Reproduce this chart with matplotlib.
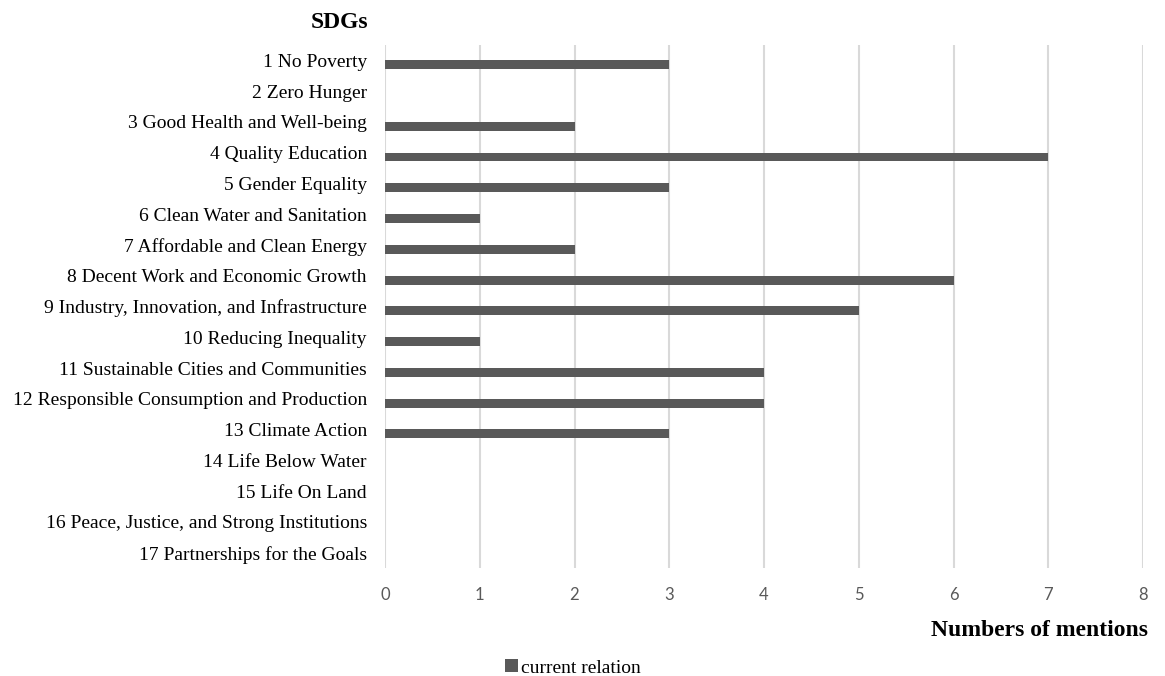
import matplotlib
matplotlib.use('Agg')
import matplotlib.pyplot as plt
from matplotlib.patches import Patch

categories = [
    "1 No Poverty",
    "2 Zero Hunger",
    "3 Good Health and Well-being",
    "4 Quality Education",
    "5 Gender Equality",
    "6 Clean Water and Sanitation",
    "7 Affordable and Clean Energy",
    "8 Decent Work and Economic Growth",
    "9 Industry, Innovation, and Infrastructure",
    "10 Reducing Inequality",
    "11 Sustainable Cities and Communities",
    "12 Responsible Consumption and Production",
    "13 Climate Action",
    "14 Life Below Water",
    "15 Life On Land",
    "16 Peace, Justice, and Strong Institutions",
    "17 Partnerships for the Goals",
]
mentions = [3, 0, 2, 7, 3, 1, 2, 6, 5, 1, 4, 4, 3, 0, 0, 0, 0]
x_ticks = [0, 1, 2, 3, 4, 5, 6, 7, 8]

bar_color = '#595959'
grid_color = '#d9d9d9'
serif = 'Liberation Serif'

W, H = 1165, 676
fig = plt.figure(figsize=(W / 100, H / 100), dpi=100)
ax = fig.add_axes([385 / W, 1 - 568 / H, (1143 - 385) / W, (568 - 45) / H])

ypos = list(range(len(categories)))
# bars sit a little below the category centre (second, empty series slot above)
bar_pos = [y + 0.14 for y in ypos]
ax.barh(bar_pos, mentions, height=0.29, color=bar_color, zorder=3)

ax.set_xlim(0, 8)
ax.set_ylim(len(categories) - 0.5, -0.5)
ax.set_xticks(x_ticks)
ax.set_yticks(ypos)
ax.set_yticklabels(categories, fontfamily=serif, fontsize=14, color='black')
ax.tick_params(axis='y', length=0, pad=13)
ax.tick_params(axis='x', length=0, pad=14, labelsize=12, labelcolor='#595959')
for lbl in ax.get_xticklabels():
    lbl.set_fontfamily('Lato')

ax.grid(axis='x', color=grid_color, linewidth=1.5, zorder=0)
for s in ax.spines.values():
    s.set_visible(False)

fig.text(368 / W, 1 - 22 / H, "SDGs", fontfamily=serif, fontweight='bold',
         fontsize=17, ha='right', va='center')
fig.text(1148 / W, 1 - 631 / H, "Numbers of mentions", fontfamily=serif,
         fontweight='bold', fontsize=17, ha='right', va='center')

handles = [Patch(facecolor=bar_color, label='current relation')]
fig.legend(handles=handles, loc='center', bbox_to_anchor=(573 / W, 1 - 668 / H),
           frameon=False, prop={'family': serif, 'size': 14},
           handlelength=0.65, handleheight=0.65, handletextpad=0.2)

fig.savefig('out.png', dpi=100)
